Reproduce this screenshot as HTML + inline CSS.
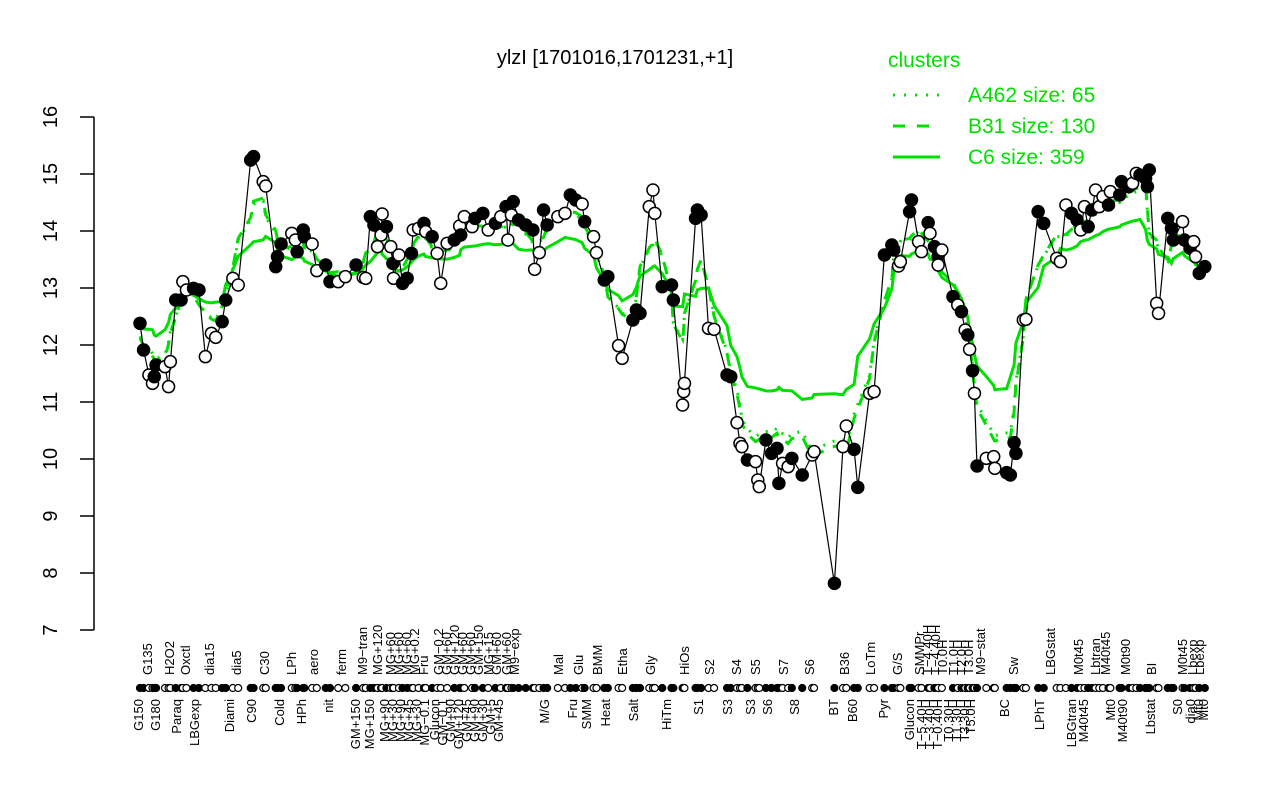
<!DOCTYPE html>
<html><head><meta charset="utf-8"><style>
html,body{margin:0;padding:0;background:#fff;}
svg{display:block;font-family:"Liberation Sans",sans-serif;}
</style></head><body>
<svg id="s" width="1280" height="800" xmlns="http://www.w3.org/2000/svg">
<rect width="1280" height="800" fill="#fff"/>
<text x="615" y="64" font-size="20" text-anchor="middle">ylzI [1701016,1701231,+1]</text>
<g stroke="#000" stroke-width="1.5" fill="none">
<line x1="94" y1="117" x2="94" y2="630"/>
</g>
<g id="yt"></g>
<g font-size="21" fill="#00e000">
<text x="888" y="67">clusters</text>
<text x="968" y="102">A462 size: 65</text>
<text x="968" y="133">B31 size: 130</text>
<text x="968" y="164">C6 size: 359</text>
</g>
<g stroke="#00e000" stroke-width="3">
<line x1="893" y1="95" x2="940" y2="95" stroke-dasharray="2,9"/>
<line x1="893" y1="126" x2="940" y2="126" stroke-dasharray="12,12"/>
<line x1="893" y1="157" x2="940" y2="157"/>
</g>
<g id="g"></g>
<g id="p"></g>
<g id="xl" font-size="13"></g>
</svg>
<script>
var NS="http://www.w3.org/2000/svg";
function el(t,a,par,txt){var e=document.createElementNS(NS,t);for(var k in a)e.setAttribute(k,a[k]);if(txt)e.textContent=txt;par.appendChild(e);return e;}
var yt=document.getElementById('yt');
for(var v=7;v<=16;v++){var y=630-(v-7)*57;el('line',{x1:80,y1:y,x2:94,y2:y,stroke:'#000','stroke-width':1.5},yt);
el('text',{x:0,y:0,'font-size':20,'text-anchor':'middle',transform:'translate(57,'+y+') rotate(-90)'},yt,String(v));}
var z1=[[140,670,1],[150,750,1],[165,825,0],[175,850,0],[180,830,1],[185,795,1],[210,800,0],[225,785,0],[220,860,0],[240,600,1],[255,600,1],[260,545,0],[270,570,0],[290,565,1],[305,570,1],[323,770,0],[340,700,0],[352,712,0],[370,665,1],[380,600,1],[400,535,0],[415,555,0],[450,180,1],[458,170,1],[485,245,0],[492,258,0],[520,500,1],[525,470,1],[535,432,1],[565,400,0],[575,420,0],[580,455,1],[597,390,1],[600,410,1],[622,432,0],[635,512,0],[660,495,1],[672,545,1],[695,545,0],[715,530,0],[745,495,1],[765,532,0],[772,535,0],[785,350,1],[795,375,1],[805,440,0],[815,405,0],[818,342,0],[830,380,1],[842,440,0],[848,490,1],[850,535,0],[865,465,0],[875,550,1],[888,535,1],[900,460,1],[905,390,0],[920,385,0],[935,370,1],[940,395,0],[958,410,1],[972,460,0],[982,550,0],[1000,430,0],[1020,420,1],[1035,378,0],[1038,405,1],[1048,350,0],[1070,380,0],[1078,355,1],[1100,340,1],[1115,390,0],[1135,370,1],[1150,350,0],[1165,320,1],[1170,420,0],[1180,345,0],[1185,305,1],[1200,360,1],[1220,375,1],[1240,390,1],[1245,508,0],[1258,458,0],[1270,330,1],[1280,375,1],[1310,350,0],[1330,340,0],[1345,285,1],[1360,300,1],[1378,312,0],[1385,365,1],[1410,410,0],[1418,458,0],[1440,540,1],[1450,530,1],[1480,737,0],[1490,775,0],[1520,660,1],[1530,630,1]];
var z2=[[0,640,1],[25,320,0],[35,270,0],[40,340,0],[60,560,1],[85,555,1],[90,600,1],[115,915,0],[118,875,0],[120,850,0],[150,355,1],[155,330,1],[165,345,1],[185,685,0],[200,688,0],[235,825,1],[245,830,1],[262,968,0],[270,1030,0],[275,1040,0],[290,1080,1],[312,1085,0],[318,1140,0],[322,1160,0],[340,1020,1],[355,1060,1],[370,1045,1],[375,1150,1],[385,1090,0],[400,1100,0],[410,1075,1],[438,1125,1],[465,1065,0],[470,1055,0],[525,1450,1],[548,1040,0],[557,978,0],[578,1048,1],[588,1162,1],[620,880,0],[632,875,0],[660,465,1],[680,435,1],[685,450,1],[698,498,0],[703,485,0],[728,335,1],[733,300,1],[752,425,0],[760,455,0],[778,368,1],[783,400,0],[795,440,1],[805,470,1],[805,495,0],[815,450,0],[845,590,1],[858,615,0],[868,635,1],[878,690,0],[885,705,1],[890,748,0],[898,812,1],[903,880,0],[910,1098,1],[935,1075,0],[955,1070,0],[958,1105,0],[990,1118,1],[1000,1125,1],[1010,1028,1],[1015,1060,1],[1035,660,0],[1042,658,0],[1075,335,1],[1090,370,1],[1125,475,0],[1135,485,0],[1150,315,0],[1165,340,1],[1180,360,1],[1190,390,0],[1200,320,0],[1210,380,1],[1220,330,1],[1230,270,0],[1240,320,0],[1250,290,0],[1265,315,1],[1270,275,0],[1295,285,1],[1300,245,1],[1320,260,1],[1330,250,0],[1340,220,0],[1350,225,1],[1365,235,1],[1370,260,1],[1375,210,1],[1395,610,0],[1400,640,0],[1425,355,1],[1435,385,1],[1440,420,1],[1465,365,0],[1470,420,1],[1485,445,1],[1495,425,0],[1500,470,0],[1510,520,1],[1525,500,1]];
var P=[];
z1.forEach(function(a){P.push([90+a[0]/2.8,100+a[1]/3,a[2]]);});
z2.forEach(function(a){var x=640+a[0]/2.7;if(x>637)P.push([x,100+a[1]/3,a[2]]);});
P.sort(function(a,b){return a[0]-b[0];});
var g=document.getElementById('g'),p=document.getElementById('p');
function smooth(w,f,c){var out=[];for(var i=0;i<P.length;i++){var s=0,n=0;for(var j=Math.max(0,i-w);j<=Math.min(P.length-1,i+w);j++){s+=P[j][1];n++;}var m=s/n;out.push([P[i][0],c+f*(m-c)]);}return out;}
function pl(arr,extra){var d=arr.map(function(q){return q[0].toFixed(1)+','+q[1].toFixed(1);}).join(' ');var a={points:d,fill:'none',stroke:'#00e000','stroke-width':3};for(var k in extra)a[k]=extra[k];el('polyline',a,g);}
pl(smooth(3,0.6,280),{});
pl(smooth(2,0.88,255),{'stroke-dasharray':'12,10'});
pl(smooth(2,0.85,262),{'stroke-dasharray':'2,8'});
el('polyline',{points:P.map(function(q){return q[0].toFixed(1)+','+q[1].toFixed(1);}).join(' '),fill:'none',stroke:'#000','stroke-width':1.2},p);
P.forEach(function(q){el('circle',{cx:q[0],cy:q[1],r:6,fill:q[2]?'#000':'#fff',stroke:'#000','stroke-width':1.5},p);
el('circle',{cx:q[0],cy:688,r:3.5,fill:q[2]?'#000':'#fff',stroke:'#000','stroke-width':1.2},p);});
var up=[[147,'G135'],[169,'H2O2'],[185,'Oxctl'],[209,'dia15'],[236,'dia5'],[264,'C30'],[291,'LPh'],[313,'aero'],[341,'ferm'],[362,'M9−tran'],[377,'MG+120'],[390,'MG+60'],[398,'MG+60'],[406,'MG+60'],[414,'MG+0.2'],[423,'Fru'],[438,'GM−0.2'],[446,'GM+60'],[454,'GM+120'],[462,'GM+60'],[470,'GM+60'],[478,'GM+150'],[488,'MG+15'],[496,'GM+60'],[506,'GM+60'],[514,'M9−exp'],[558,'Mal'],[578,'Glu'],[597,'BMM'],[622,'Etha'],[650,'Gly'],[684,'HiOs'],[709,'S2'],[736,'S4'],[755,'S5'],[783,'S7'],[809,'S6'],[844,'B36'],[870,'LoTm'],[897,'G/S'],[919,'SMMPr'],[927,'T−4.40H'],[935,'T−4.40H'],[942,'T0.0H'],[953,'T1.0H'],[961,'T2.0H'],[968,'T3.0H'],[980,'M9−stat'],[1013,'Sw'],[1050,'LBGstat'],[1078,'M0t45'],[1095,'Lbtran'],[1105,'M40t45'],[1125,'M0t90'],[1151,'BI'],[1182,'M0t45'],[1192,'Lbexp'],[1199,'Lbexp']];
var lo=[[138,'G150'],[155,'G180'],[176,'Paraq'],[194,'LBGexp'],[229,'Diami'],[251,'C90'],[279,'Cold'],[301,'HPh'],[328,'nit'],[355,'GM+150'],[369,'MG+150'],[384,'MG+90'],[392,'MG+30'],[400,'MG+90'],[408,'MG+45'],[416,'MG+30'],[424,'MG−0.1'],[434,'Glucon'],[442,'GM−0.1'],[450,'GM+90'],[458,'GM+120'],[466,'GM+45'],[474,'GM+90'],[482,'GM+30'],[490,'GM+5'],[498,'GM+45'],[544,'M/G'],[572,'Fru'],[586,'SMM'],[605,'Heat'],[633,'Salt'],[666,'HiTm'],[698,'S1'],[727,'S3'],[750,'S3'],[767,'S6'],[794,'S8'],[833,'BT'],[852,'B60'],[883,'Pyr'],[909,'Glucon'],[921,'T−5.40H'],[929,'T−3.40H'],[937,'T−0.40H'],[948,'T0.30H'],[956,'T1.30H'],[964,'T3.30H'],[970,'T5.0H'],[1004,'BC'],[1039,'LPhT'],[1071,'LBGtran'],[1083,'M40t45'],[1110,'Mt0'],[1122,'M40t90'],[1150,'Lbstat'],[1177,'S0'],[1190,'dia0'],[1198,'Mt0'],[1203,'Mt0']];
var xl=document.getElementById('xl');
up.forEach(function(a){el('text',{x:0,y:0,'text-anchor':'start',transform:'translate('+(a[0]+5)+',675) rotate(-90)'},xl,a[1]);});
lo.forEach(function(a){el('text',{x:0,y:0,'text-anchor':'end',transform:'translate('+(a[0]+5)+',699) rotate(-90)'},xl,a[1]);});
</script>
</body></html>
